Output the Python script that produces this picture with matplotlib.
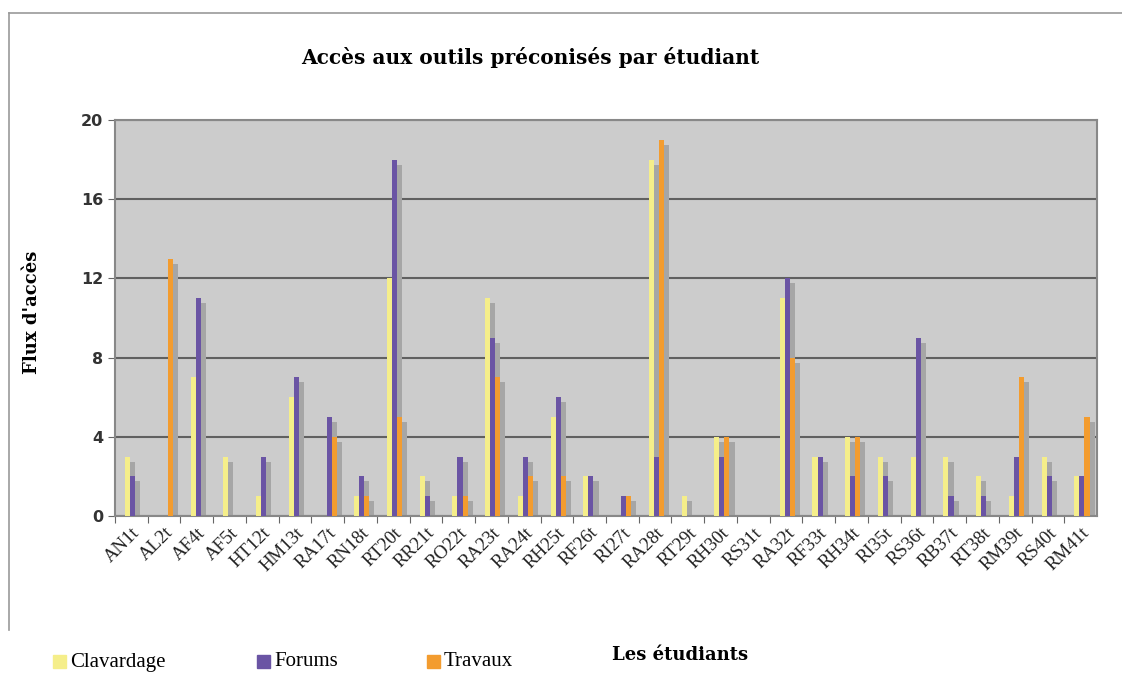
import numpy as np
import matplotlib.pyplot as plt
from matplotlib.lines import Line2D

etudiants = ['AN1t', 'AL2t', 'AF4t', 'AF5t', 'HT12t', 'HM13t', 'RA17t', 'RN18t', 'RT20t', 'RR21t',
             'RO22t', 'RA23t', 'RA24t', 'RH25t', 'RF26t', 'RI27t', 'RA28t', 'RT29t', 'RH30t', 'RS31t',
             'RA32t', 'RF33t', 'RH34t', 'RI35t', 'RS36t', 'RB37t', 'RT38t', 'RM39t', 'RS40t', 'RM41t']
clavardage = [3, 0, 7, 3, 1, 6, 0, 1, 12, 2, 1, 11, 1, 5, 2, 0, 18, 1, 4, 0, 11, 3, 4, 3, 3, 3, 2, 1, 3, 2]
forums = [2, 0, 11, 0, 3, 7, 5, 2, 18, 1, 3, 9, 3, 6, 2, 1, 3, 0, 3, 0, 12, 3, 2, 2, 9, 1, 1, 3, 2, 2]
travaux = [0, 13, 0, 0, 0, 0, 4, 1, 5, 0, 1, 7, 2, 2, 0, 1, 19, 0, 4, 0, 8, 0, 4, 0, 0, 0, 0, 7, 0, 5]

series = [('Clavardage', clavardage, '#f5ee8a'),
          ('Forums', forums, '#6a54a4'),
          ('Travaux', travaux, '#f39c2f')]

serif = 'Liberation Serif'
titre_font = 'DejaVu Serif'
fig = plt.figure(figsize=(11.22, 6.87), dpi=100)
ax = fig.add_axes([115/1122, 1-516/687, (1097-115)/1122, (516-120)/687])
ax.set_facecolor('#cccccc')

x = np.arange(len(etudiants))
w = 0.155
for k, (nom, vals, col) in enumerate(series):
    pos = x + 0.04 + (k-1)*w
    v = np.array(vals, dtype=float)
    # ombre grise
    ax.bar(pos + w, np.clip(v - 0.25, 0, None), width=w, color='#a6a6a6', zorder=2, linewidth=0)
    ax.bar(pos, v, width=w, color=col, zorder=3, linewidth=0)

ax.set_xlim(-0.5, len(etudiants)-0.5)
ax.set_ylim(0, 20)
ax.set_yticks([0, 4, 8, 12, 16, 20])
ax.yaxis.grid(True, color='#606060', linewidth=1.5, zorder=1)
ax.set_axisbelow(True)
ax.set_xticks(x - 0.5, minor=False)
ax.set_xticklabels([])
ax.set_xticks(x, minor=True)
ax.set_xticklabels(etudiants, minor=True, rotation=45, ha='right', rotation_mode='anchor',
                   fontsize=13.5, family=serif, color='#222222')
ax.tick_params(axis='x', which='minor', length=0, pad=6)
ax.tick_params(axis='x', which='major', length=5, color='#666666')
ax.tick_params(axis='y', length=5, color='#666666', labelsize=11.5, labelcolor='#333333')
for t in ax.get_yticklabels():
    t.set_fontweight('bold')
for s in ax.spines.values():
    s.set_color('#888888')
    s.set_linewidth(1.5)

fig.text(530/1122, 1-57/687, 'Accès aux outils préconisés par étudiant', ha='center', va='center',
         fontsize=14.5, fontweight='bold', family=titre_font)
fig.text(32/1122, 1-312/687, "Flux d'accès", rotation=90, ha='center', va='center',
         fontsize=13, fontweight='bold', family=titre_font)
fig.text(680/1122, 1-655/687, 'Les étudiants', ha='center', va='center',
         fontsize=13, fontweight='bold', family=titre_font)

# légende en bas à gauche
leg_x = [53, 257, 427]
for (nom, vals, col), lx in zip(series, leg_x):
    fig.patches.append(plt.Rectangle((lx/1122, 1-668/687), 13/1122, 13/687, color=col,
                                     transform=fig.transFigure, figure=fig))
    fig.text((lx+17)/1122, 1-662/687, nom, ha='left', va='center', fontsize=15, family=serif)

# cadre
fig.add_artist(Line2D([9/1122, 1], [1-13/687, 1-13/687], color='#999999', linewidth=1.2))
fig.add_artist(Line2D([9/1122, 9/1122], [1-13/687, 1-630/687], color='#999999', linewidth=1.2))

fig.savefig('out.png', dpi=100)
